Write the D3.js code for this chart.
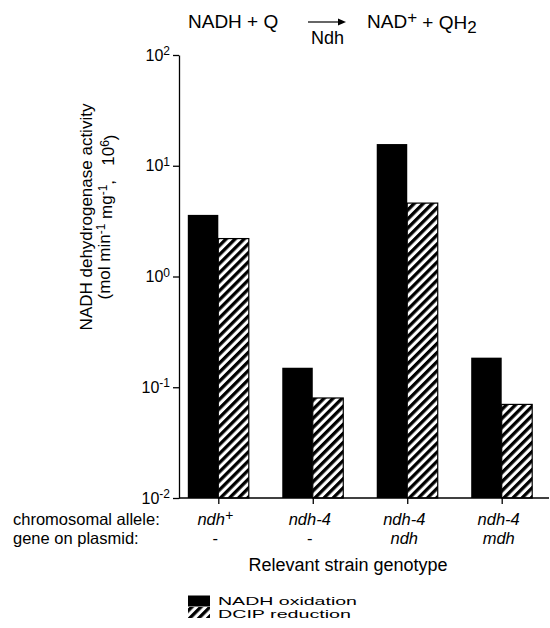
<!DOCTYPE html>
<html lang="en">
<head>
<meta charset="UTF-8">
<title>NADH dehydrogenase activity</title>
<script src="https://cdn.jsdelivr.net/npm/d3@7"></script>
<style>
  body { margin: 0; background: #fff; }
  svg { display: block; font-family: "Liberation Sans", Arial, Helvetica, sans-serif; }
</style>
</head>
<body>
<div id="chart"></div>
<script>
// Data
const alleles = ["ndh+", "ndh-4", "ndh-4", "ndh-4"];
const plasmids = ["-", "-", "ndh", "mdh"];
const nadhOxidation = [3.6, 0.15, 15.7, 0.185];
const dcipReduction = [2.2, 0.080, 4.6, 0.070];
const seriesNames = ["NADH oxidation", "DCIP reduction"];
const yTicks = [0.01, 0.1, 1, 10, 100];

const width = 550, height = 628;
const strains = alleles.map((a, i) => a + " / " + plasmids[i]);
const series = [nadhOxidation, dcipReduction];

const svg = d3.select("#chart").append("svg")
    .attr("width", width)
    .attr("height", height);

const defs = svg.append("defs");
const pat = defs.append("pattern")
    .attr("id", "hatch")
    .attr("patternUnits", "userSpaceOnUse")
    .attr("width", 6.4)
    .attr("height", 6.4)
    .attr("patternTransform", "rotate(45)");
pat.append("rect").attr("width", 6.4).attr("height", 6.4).attr("fill", "#fff");
pat.append("rect").attr("width", 3.3).attr("height", 6.4).attr("fill", "#000");

// Scales
const axisX = 179;
const y = d3.scaleLog().domain([0.01, 100]).range([498, 55]);
const x = d3.scalePoint().domain(strains).range([218.3, 501.7]);
const sub = d3.scaleBand().domain(seriesNames).range([-30.5, 30.5]);

// Bars
const groups = svg.append("g").selectAll("g")
    .data(strains)
    .join("g")
    .attr("transform", d => `translate(${x(d)},0)`);

groups.selectAll("rect")
    .data((d, i) => seriesNames.map((s, j) => ({ s, v: series[j][i] })))
    .join("rect")
    .attr("x", d => sub(d.s))
    .attr("width", sub.bandwidth())
    .attr("y", d => y(d.v))
    .attr("height", d => y(0.01) - y(d.v))
    .attr("fill", d => d.s === seriesNames[0] ? "#000" : "url(#hatch)")
    .attr("stroke", "#000")
    .attr("stroke-width", d => d.s === seriesNames[0] ? 0 : 1.2);

// Y axis
const gy = svg.append("g")
    .attr("transform", `translate(${axisX},0)`)
    .call(d3.axisLeft(y).tickValues(yTicks).tickSize(6).tickSizeOuter(0));
gy.attr("font-family", null);
gy.select(".domain").attr("stroke-width", 1.3);
gy.selectAll(".tick line").attr("stroke-width", 1.3);
gy.selectAll(".tick text")
    .attr("font-size", 16)
    .attr("fill", "#000")
    .each(function (d) {
        const t = d3.select(this).text("");
        t.append("tspan").text("10");
        t.append("tspan")
            .attr("dy", "-0.45em")
            .attr("font-size", 12)
            .text(Math.round(Math.log10(d)));
    });

// X axis: baseline and ticks
svg.append("line")
    .attr("x1", axisX).attr("x2", 549)
    .attr("y1", y(0.01)).attr("y2", y(0.01))
    .attr("stroke", "#000").attr("stroke-width", 1.3);
const gx = svg.append("g")
    .attr("transform", `translate(0,${y(0.01)})`)
    .call(d3.axisBottom(x).tickSize(6).tickFormat(""));
gx.select(".domain").remove();
gx.selectAll(".tick line").attr("stroke-width", 1.3);

// Genotype labels
const labelSize = 16.5;
const row1 = 525, row2 = 544;
svg.append("text").attr("x", 13).attr("y", row1).attr("font-size", labelSize)
    .text("chromosomal allele:");
svg.append("text").attr("x", 13).attr("y", row2).attr("font-size", labelSize)
    .text("gene on plasmid:");

strains.forEach((s, i) => {
    const cx = x(s) - 3;
    const a = svg.append("text")
        .attr("x", cx).attr("y", row1)
        .attr("text-anchor", "middle")
        .attr("font-size", labelSize)
        .attr("font-style", "italic");
    if (alleles[i].endsWith("+")) {
        a.append("tspan").text(alleles[i].slice(0, -1));
        a.append("tspan").attr("dy", "-0.35em").attr("font-size", 14).text("+");
    } else {
        a.text(alleles[i]);
    }
    svg.append("text")
        .attr("x", cx).attr("y", row2)
        .attr("text-anchor", "middle")
        .attr("font-size", labelSize)
        .attr("font-style", plasmids[i] === "-" ? "normal" : "italic")
        .text(plasmids[i]);
});

svg.append("text")
    .attr("x", 348).attr("y", 571)
    .attr("text-anchor", "middle")
    .attr("font-size", 18)
    .text("Relevant strain genotype");

// Y axis title
const yt = svg.append("g").attr("transform", "translate(0,217) rotate(-90)");
yt.append("text").attr("x", 0).attr("y", 92)
    .attr("text-anchor", "middle").attr("font-size", 17)
    .text("NADH dehydrogenase activity");
const l2 = yt.append("text").attr("x", 0).attr("y", 110)
    .attr("text-anchor", "middle").attr("font-size", 17)
    .attr("xml:space", "preserve").style("white-space", "pre");
l2.append("tspan").text("(mol min");
l2.append("tspan").attr("dy", "-0.4em").attr("font-size", 12).text("-1");
l2.append("tspan").attr("dy", "0.4em").text(" mg");
l2.append("tspan").attr("dy", "-0.4em").attr("font-size", 12).text("-1");
l2.append("tspan").attr("dy", "0.4em").text(",   10");
l2.append("tspan").attr("dy", "-0.4em").attr("font-size", 12).text("6");
l2.append("tspan").attr("dy", "0.4em").text(")");

// Reaction title
const titleSize = 19;
svg.append("text").attr("x", 188).attr("y", 28).attr("font-size", titleSize)
    .text("NADH + Q");
const tr = svg.append("text").attr("x", 367).attr("y", 28).attr("font-size", titleSize);
tr.append("tspan").text("NAD");
tr.append("tspan").attr("dy", "-0.3em").attr("font-size", 17).text("+");
tr.append("tspan").attr("dy", "0.3em").text(" + QH");
tr.append("tspan").attr("dy", "0.25em").attr("font-size", 17).text("2");
svg.append("line")
    .attr("x1", 308).attr("x2", 340).attr("y1", 22).attr("y2", 22)
    .attr("stroke", "#000").attr("stroke-width", 1.2);
svg.append("path")
    .attr("d", "M338,18.5 L346,22 L338,25.5 Z")
    .attr("fill", "#000");
svg.append("text").attr("x", 311).attr("y", 44).attr("font-size", 18)
    .text("Ndh");

// Legend (squat, wide lettering as in the original)
const legend = svg.append("g");
const legendWidths = [139, 133];
seriesNames.forEach((s, i) => {
    legend.append("rect")
        .attr("x", 188).attr("y", 595.5 + i * 11.5)
        .attr("width", 22).attr("height", 11)
        .attr("fill", i === 0 ? "#000" : "url(#hatch)");
    legend.append("text")
        .attr("x", 218).attr("y", 605 + i * 13)
        .attr("font-size", 11)
        .attr("textLength", legendWidths[i])
        .attr("lengthAdjust", "spacingAndGlyphs")
        .text(s);
});
</script>
</body>
</html>
